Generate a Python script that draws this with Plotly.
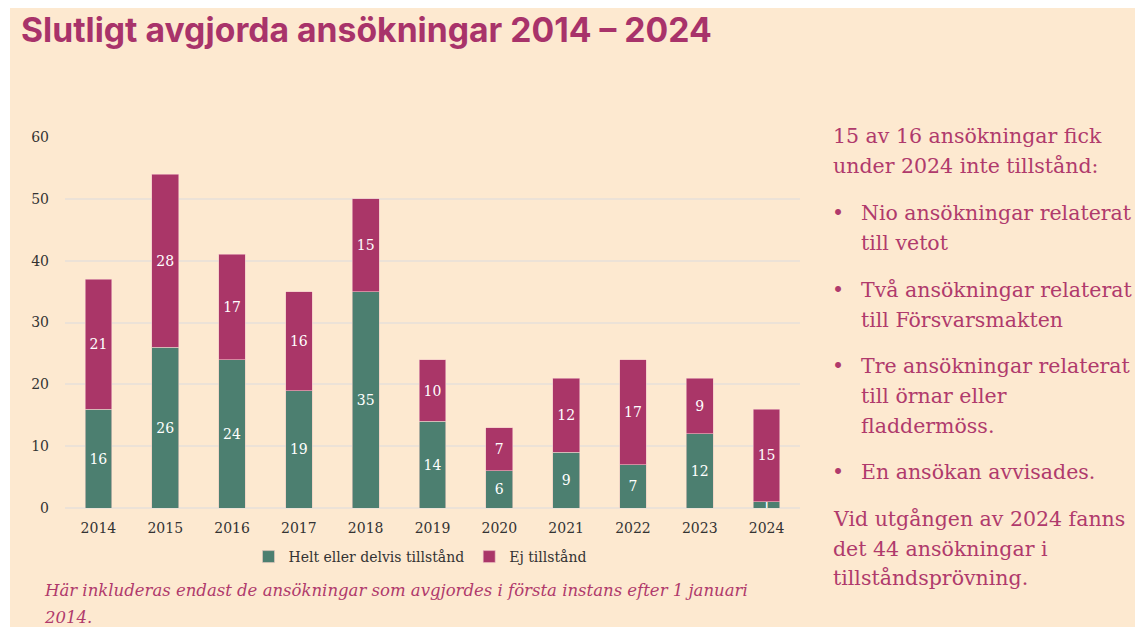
import plotly.graph_objects as go

years = ["2014", "2015", "2016", "2017", "2018", "2019", "2020", "2021", "2022", "2023", "2024"]
granted = [16, 26, 24, 19, 35, 14, 6, 9, 7, 12, 1]
denied = [21, 28, 17, 16, 15, 10, 7, 12, 17, 9, 15]
series_names = ["Helt eller delvis tillstånd", "Ej tillstånd"]
y_ticks = [0, 10, 20, 30, 40, 50, 60]

title_text = "Slutligt avgjorda ansökningar 2014 – 2024"
caption_lines = [
    "Här inkluderas endast de ansökningar som avgjordes i första instans efter 1 januari",
    "2014.",
]
# (bullet, text, indented, vertical position in page pixels)
side_lines = [
    ("", "15 av 16 ansökningar fick", False, 136),
    ("", "under 2024 inte tillstånd:", False, 166),
    ("•", "Nio ansökningar relaterat", True, 213),
    ("", "till vetot", True, 243),
    ("•", "Två ansökningar relaterat", True, 290),
    ("", "till Försvarsmakten", True, 320),
    ("•", "Tre ansökningar relaterat", True, 366),
    ("", "till örnar eller", True, 396),
    ("", "fladdermöss.", True, 426),
    ("•", "En ansökan avvisades.", True, 472),
    ("", "Vid utgången av 2024 fanns", False, 519),
    ("", "det 44 ansökningar i", False, 549),
    ("", "tillståndsprövning.", False, 578),
]

W, H = 1138, 627
L, R, T, B = 65, 800, 137, 508  # plot area in page pixels
BG = "#FDE9D0"
GREEN = "#4C7F70"
MAGENTA = "#AA3668"
TEXTCOL = "#B03A6C"
SERIF = "Georgia, 'DejaVu Serif', serif"


def px(x):
    """page pixel x -> paper coordinate"""
    return (x - L) / (R - L)


def py(y):
    """page pixel y -> paper coordinate"""
    return (B - y) / (B - T)


fig = go.Figure()
fig.add_trace(go.Bar(
    x=years, y=granted, name=series_names[0],
    marker=dict(color=GREEN, line=dict(color="#E9C9C0", width=0.6)),
    text=granted, textposition="inside", insidetextanchor="middle", textangle=0,
    textfont=dict(color="white", size=14, family=SERIF),
))
fig.add_trace(go.Bar(
    x=years, y=denied, name=series_names[1],
    marker=dict(color=MAGENTA, line=dict(color="#F0C3C8", width=0.6)),
    text=denied, textposition="inside", insidetextanchor="middle", textangle=0,
    textfont=dict(color="white", size=14, family=SERIF),
))

shapes = [
    dict(type="rect", xref="paper", yref="paper",
         x0=px(10), x1=px(1135), y0=py(8), y1=py(640),
         fillcolor=BG, line=dict(width=0), layer="below"),
]

annotations = [
    dict(text=f"<b>{title_text}</b>", xref="paper", yref="paper",
         x=px(19), y=py(30), xanchor="left", yanchor="middle", showarrow=False,
         font=dict(family="Inter, 'Noto Sans', sans-serif", size=33.7, color="#A8336A")),
]
for i, line in enumerate(caption_lines):
    annotations.append(dict(
        text=f"<i>{line}</i>", xref="paper", yref="paper",
        x=px(42), y=py(590 + 27.5 * i), xanchor="left", yanchor="middle",
        showarrow=False, font=dict(family=SERIF, size=16.5, color=TEXTCOL)))
for bullet, line, indented, ypos in side_lines:
    annotations.append(dict(
        text=line, xref="paper", yref="paper",
        x=px(859 if indented else 831), y=py(ypos), xanchor="left", yanchor="middle",
        showarrow=False, font=dict(family=SERIF, size=20.5, color=TEXTCOL)))
    if bullet:
        annotations.append(dict(
            text=bullet, xref="paper", yref="paper",
            x=px(838), y=py(ypos), xanchor="center", yanchor="middle",
            showarrow=False, font=dict(family=SERIF, size=20.5, color=TEXTCOL)))

fig.update_layout(
    width=W, height=H,
    margin=dict(l=L, r=W - R, t=T, b=H - B, pad=0),
    paper_bgcolor="white", plot_bgcolor="rgba(0,0,0,0)",
    barmode="stack", bargap=0.6,
    showlegend=True,
    legend=dict(orientation="h", x=px(420), y=py(557), xanchor="center", yanchor="middle",
                font=dict(family=SERIF, size=14, color="#333333"),
                bgcolor="rgba(0,0,0,0)", traceorder="normal", itemwidth=30),
    uniformtext=dict(mode="show", minsize=14),
    xaxis=dict(showgrid=False, showline=False, ticks="",
               tickfont=dict(family=SERIF, size=14, color="#333333"), ticklabelstandoff=10),
    yaxis=dict(range=[0, 60], tickvals=y_ticks, showgrid=True, gridcolor="#ECE2D7",
               gridwidth=1.5, zeroline=True, zerolinecolor="#ECE2D7", zerolinewidth=1.5,
               showline=False, ticks="",
               tickfont=dict(family=SERIF, size=14, color="#333333"), ticklabelstandoff=15),
    shapes=shapes,
    annotations=annotations,
)

fig.write_html(
    "out.html",
    config={"displayModeBar": False},
    post_script="document.body.style.margin='0';document.body.style.overflow='hidden';",
)
